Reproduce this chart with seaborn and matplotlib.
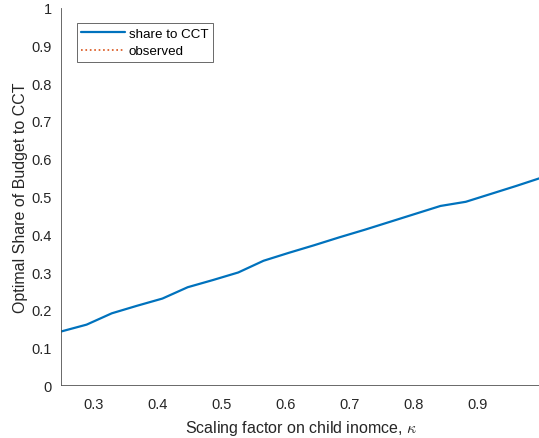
import matplotlib
matplotlib.use("Agg")
import matplotlib.pyplot as plt
import seaborn as sns
import pandas as pd

# Scaling factor on child income (20-point grid) and optimal CCT budget share
kappa = [0.2500, 0.2895, 0.3289, 0.3684, 0.4079, 0.4474, 0.4868, 0.5263,
         0.5658, 0.6053, 0.6447, 0.6842, 0.7237, 0.7632, 0.8026, 0.8421,
         0.8816, 0.9211, 0.9605, 1.0000]
share_cct = [0.143, 0.161, 0.191, 0.211, 0.230, 0.260, 0.279, 0.299,
             0.330, 0.351, 0.371, 0.392, 0.412, 0.433, 0.454, 0.475,
             0.486, 0.507, 0.528, 0.550]

# Observed share (no points inside the plotted range)
observed_kappa = []
observed_share = []

x_ticks = [0.3, 0.4, 0.5, 0.6, 0.7, 0.8, 0.9, 1.0]
x_tick_labels = ["0.3", "0.4", "0.5", "0.6", "0.7", "0.8", "0.9", "1"]
y_ticks = [0, 0.1, 0.2, 0.3, 0.4, 0.5, 0.6, 0.7, 0.8, 0.9, 1.0]
y_tick_labels = ["0", "0.1", "0.2", "0.3", "0.4", "0.5", "0.6", "0.7", "0.8", "0.9", "1"]

sns.set_theme(style="white")
plt.rcParams["font.family"] = ["Liberation Sans", "DejaVu Sans"]
plt.rcParams["mathtext.fontset"] = "cm"

dark = "#262626"
axis_grey = "#505050"
fig = plt.figure(figsize=(5.39, 4.39), dpi=100)
ax = fig.add_axes([0.1137, 0.1196, 0.8911, 0.8610])

df = pd.DataFrame({"kappa": kappa, "share": share_cct})
sns.lineplot(data=df, x="kappa", y="share", ax=ax, color="#0072BD",
             linewidth=1.6, estimator=None, sort=False, label="share to CCT")
ax.plot(observed_kappa, observed_share, color="#D95319", linestyle=":",
        linewidth=1.2, label="observed")

ax.set_xlim(0.25, 1.0)
ax.set_ylim(0, 1)
ax.set_xticks(x_ticks)
ax.set_xticklabels(x_tick_labels)
ax.set_yticks(y_ticks)
ax.set_yticklabels(y_tick_labels)

for side in ("top", "right"):
    ax.spines[side].set_visible(False)
for side in ("left", "bottom"):
    ax.spines[side].set_color(axis_grey)
    ax.spines[side].set_linewidth(0.6)

ax.tick_params(axis="both", direction="in", length=3.5, width=0.6,
               color=axis_grey, labelcolor=dark, labelsize=10.5, pad=7)
ax.tick_params(axis="x", pad=8)
ax.set_xlabel(r"Scaling factor on child inomce, $\kappa$", fontsize=11.5,
              color=dark, labelpad=5)
ax.set_ylabel("Optimal Share of Budget to CCT", fontsize=11.5,
              color=dark, labelpad=2)

leg = ax.legend(loc="upper left", bbox_to_anchor=(0.032, 0.960),
                borderaxespad=0, frameon=True, fancybox=False, fontsize=9.6,
                handlelength=3.3, handletextpad=0.25, labelspacing=0.4,
                borderpad=0.35)
leg.get_frame().set_edgecolor(dark)
leg.get_frame().set_linewidth(0.6)
for t in leg.get_texts():
    t.set_color("black")

fig.savefig("out.png", dpi=100)
